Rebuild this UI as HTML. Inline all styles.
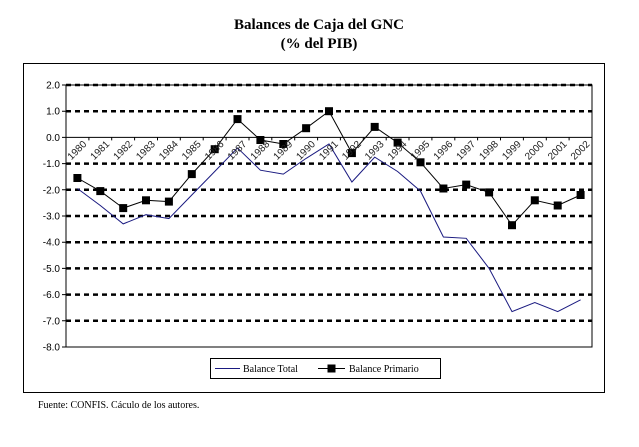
<!DOCTYPE html>
<html><head><meta charset="utf-8"><style>body{margin:0;background:#fff}svg{display:block}</style></head><body>
<svg width="639" height="447" xmlns="http://www.w3.org/2000/svg" font-family="Liberation Serif, serif">
<text x="319" y="29" text-anchor="middle" font-size="15" font-weight="bold">Balances de Caja del GNC</text>
<text x="319" y="48" text-anchor="middle" font-size="15" font-weight="bold">(% del PIB)</text>
<rect x="23.5" y="63.5" width="581" height="329" fill="none" stroke="#000"/>
<g stroke="#000" stroke-width="2.5" stroke-dasharray="5,4">
<line x1="66" x2="592" y1="85" y2="85"/><line x1="66" x2="592" y1="111.2" y2="111.2"/>
<line x1="66" x2="592" y1="163.6" y2="163.6"/><line x1="66" x2="592" y1="189.8" y2="189.8"/>
<line x1="66" x2="592" y1="216" y2="216"/><line x1="66" x2="592" y1="242.2" y2="242.2"/>
<line x1="66" x2="592" y1="268.4" y2="268.4"/><line x1="66" x2="592" y1="294.6" y2="294.6"/>
<line x1="66" x2="592" y1="320.8" y2="320.8"/>
</g>
<g stroke="#000" fill="none">
<rect x="66" y="85" width="526" height="262"/>
<line x1="66" x2="592" y1="137.4" y2="137.4"/>
<path d="M62 85H66M62 111.2H66M62 137.4H66M62 163.6H66M62 189.8H66M62 216H66M62 242.2H66M62 268.4H66M62 294.6H66M62 320.8H66M62 347H66"/>
<path d="M88.9 137.4v3M111.7 137.4v3M134.6 137.4v3M157.5 137.4v3M180.3 137.4v3M203.2 137.4v3M226.1 137.4v3M249 137.4v3M271.8 137.4v3M294.7 137.4v3M317.6 137.4v3M340.4 137.4v3M363.3 137.4v3M386.2 137.4v3M409 137.4v3M431.9 137.4v3M454.8 137.4v3M477.6 137.4v3M500.5 137.4v3M523.4 137.4v3M546.3 137.4v3M569.1 137.4v3"/>
</g>
<g font-family="Liberation Sans, sans-serif" font-size="10" text-anchor="end">
<text x="60" y="88.5">2.0</text><text x="60" y="114.7">1.0</text><text x="60" y="140.9">0.0</text>
<text x="60" y="167.1">-1.0</text><text x="60" y="193.3">-2.0</text><text x="60" y="219.5">-3.0</text>
<text x="60" y="245.7">-4.0</text><text x="60" y="271.9">-5.0</text><text x="60" y="298.1">-6.0</text>
<text x="60" y="324.3">-7.0</text><text x="60" y="350.5">-8.0</text>
</g>
<polyline fill="none" stroke="#1a1a80" points="77.4,188.5 100.3,205.5 123.2,223.9 146,214.7 168.9,218.6 191.8,195 214.7,171.5 237.5,147.9 260.4,170.2 283.3,174.1 306.1,158.4 329,144 351.9,182 374.7,157.1 397.6,171.5 420.5,191.1 443.4,237 466.2,238.3 489.1,268.4 512,311.6 534.8,302.5 557.7,311.6 580.6,299.8"/>
<polyline fill="none" stroke="#000" points="77.4,178 100.3,191.1 123.2,208.1 146,200.3 168.9,201.6 191.8,174.1 214.7,149.2 237.5,119.1 260.4,140 283.3,144 306.1,128.2 329,111.2 351.9,153.1 374.7,126.9 397.6,142.6 420.5,162.3 443.4,188.5 466.2,184.6 489.1,192.4 512,225.2 534.8,200.3 557.7,205.5 580.6,195"/>
<g fill="#000">
<rect x="73.4" y="174" width="8" height="8"/><rect x="96.3" y="187.1" width="8" height="8"/><rect x="119.2" y="204.1" width="8" height="8"/><rect x="142" y="196.3" width="8" height="8"/><rect x="164.9" y="197.6" width="8" height="8"/><rect x="187.8" y="170.1" width="8" height="8"/><rect x="210.7" y="145.2" width="8" height="8"/><rect x="233.5" y="115.1" width="8" height="8"/><rect x="256.4" y="136" width="8" height="8"/><rect x="279.3" y="140" width="8" height="8"/><rect x="302.1" y="124.2" width="8" height="8"/><rect x="325" y="107.2" width="8" height="8"/><rect x="347.9" y="149.1" width="8" height="8"/><rect x="370.7" y="122.9" width="8" height="8"/><rect x="393.6" y="138.6" width="8" height="8"/><rect x="416.5" y="158.3" width="8" height="8"/><rect x="439.4" y="184.5" width="8" height="8"/><rect x="462.2" y="180.6" width="8" height="8"/><rect x="485.1" y="188.4" width="8" height="8"/><rect x="508" y="221.2" width="8" height="8"/><rect x="530.8" y="196.3" width="8" height="8"/><rect x="553.7" y="201.5" width="8" height="8"/><rect x="576.6" y="191" width="8" height="8"/>
</g>
<g font-family="Liberation Sans, sans-serif" font-size="10" fill="#222">
<text transform="translate(71.4,160.4) rotate(-45)">1980</text>
<text transform="translate(94.3,160.4) rotate(-45)">1981</text>
<text transform="translate(117.2,160.4) rotate(-45)">1982</text>
<text transform="translate(140,160.4) rotate(-45)">1983</text>
<text transform="translate(162.9,160.4) rotate(-45)">1984</text>
<text transform="translate(185.8,160.4) rotate(-45)">1985</text>
<text transform="translate(208.7,160.4) rotate(-45)">1986</text>
<text transform="translate(231.5,160.4) rotate(-45)">1987</text>
<text transform="translate(254.4,160.4) rotate(-45)">1988</text>
<text transform="translate(277.3,160.4) rotate(-45)">1989</text>
<text transform="translate(300.1,160.4) rotate(-45)">1990</text>
<text transform="translate(323,160.4) rotate(-45)">1991</text>
<text transform="translate(345.9,160.4) rotate(-45)">1992</text>
<text transform="translate(368.7,160.4) rotate(-45)">1993</text>
<text transform="translate(391.6,160.4) rotate(-45)">1994</text>
<text transform="translate(414.5,160.4) rotate(-45)">1995</text>
<text transform="translate(437.4,160.4) rotate(-45)">1996</text>
<text transform="translate(460.2,160.4) rotate(-45)">1997</text>
<text transform="translate(483.1,160.4) rotate(-45)">1998</text>
<text transform="translate(506,160.4) rotate(-45)">1999</text>
<text transform="translate(528.8,160.4) rotate(-45)">2000</text>
<text transform="translate(551.7,160.4) rotate(-45)">2001</text>
<text transform="translate(574.6,160.4) rotate(-45)">2002</text>
</g>
<rect x="210.5" y="358.5" width="230" height="20" fill="#fff" stroke="#000"/>
<line x1="215" x2="240" y1="368.5" y2="368.5" stroke="#1a1a80"/><text x="243" y="372" font-size="10">Balance Total</text>
<line x1="318" x2="345" y1="368.5" y2="368.5" stroke="#000"/><rect x="327.5" y="364.5" width="8" height="8" fill="#000"/><text x="349" y="372" font-size="10">Balance Primario</text>
<text x="38" y="408" font-size="10">Fuente: CONFIS. Cáculo de los autores.</text>
</svg>
</body></html>
